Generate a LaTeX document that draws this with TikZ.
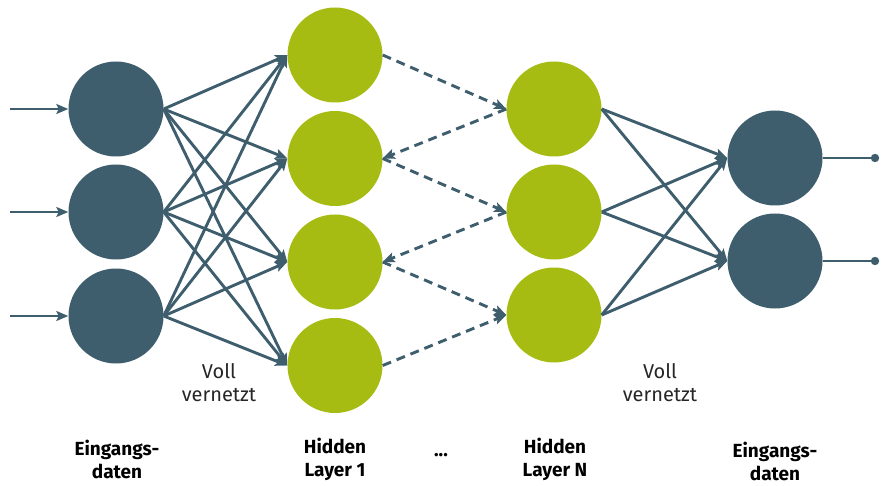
\documentclass[tikz,border=0pt]{standalone}
\usepackage{fontspec}
\setmainfont{Fira Sans}
\usetikzlibrary{arrows.meta}
\definecolor{dblue}{RGB}{62,94,110}
\definecolor{lgreen}{RGB}{166,188,18}
\begin{document}
\begin{tikzpicture}[x=1pt,y=-1pt,
  bluenode/.style={circle,fill=dblue,minimum size=95pt,inner sep=0pt},
  greennode/.style={circle,fill=lgreen,minimum size=95pt,inner sep=0pt},
  conn/.style={draw=dblue,line width=2.9pt,-{Stealth[length=12pt,width=10pt,inset=2.5pt]}},
  dconn/.style={conn,dash pattern=on 9pt off 6pt},
  lbl/.style={font=\fontsize{20}{23}\selectfont,text=black!85,align=center},
  blbl/.style={font=\fontsize{19}{23}\selectfont\bfseries,text=black,align=center}]
\useasboundingbox (0,0) rectangle (885,486);
% nodes
\node[bluenode] (i1) at (116,109) {};
\node[bluenode] (i2) at (116,212) {};
\node[bluenode] (i3) at (116,316) {};
\node[greennode] (a1) at (335,55) {};
\node[greennode] (a2) at (335,158.5) {};
\node[greennode] (a3) at (335,262) {};
\node[greennode] (a4) at (335,365.5) {};
\node[greennode] (b1) at (554,109) {};
\node[greennode] (b2) at (554,212) {};
\node[greennode] (b3) at (554,315) {};
\node[bluenode] (o1) at (775,158) {};
\node[bluenode] (o2) at (775,261) {};
% inputs
\coordinate (s1) at (10,109);
\coordinate (s2) at (10,212);
\coordinate (s3) at (10,316);
\foreach \k in {1,2,3} \draw[conn] (s\k) -- (i\k.west);
% outputs
\coordinate (e1) at (875,158);
\coordinate (e2) at (875,261);
\foreach \k in {1,2} {
  \draw[dblue,line width=2.9pt] (o\k.east) -- (e\k);
  \fill[dblue] (e\k) circle (4.2pt);
}
% full connections
\foreach \i in {1,2,3} \foreach \j in {1,2,3,4}
  \draw[conn] (i\i.east) -- (a\j.west);
\foreach \i in {1,2,3} \foreach \j in {1,2}
  \draw[conn] (b\i.east) -- (o\j.west);
% dashed
\draw[dconn] (a1.east) -- (b1.west);
\draw[dconn] (b1.west) -- (a2.east);
\draw[dconn] (a2.east) -- (b2.west);
\draw[dconn] (b2.west) -- (a3.east);
\draw[dconn] (a3.east) -- (b3.west);
\draw[dconn] (a4.east) -- (b3.west);
% labels
\node[lbl] (v1) at (219,383) {Voll\\vernetzt};
\node[lbl] (v2) at (660,383) {Voll\\vernetzt};
\node[blbl] (t1) at (117,459) {Eingangs-\\daten};
\node[blbl] (t2) at (335,459) {Hidden\\Layer 1};
\node[blbl] (t3) at (441,455) {...};
\node[blbl] (t4) at (555,459) {Hidden\\Layer N};
\node[blbl] (t5) at (775,461) {Eingangs-\\daten};
\end{tikzpicture}
\end{document}
